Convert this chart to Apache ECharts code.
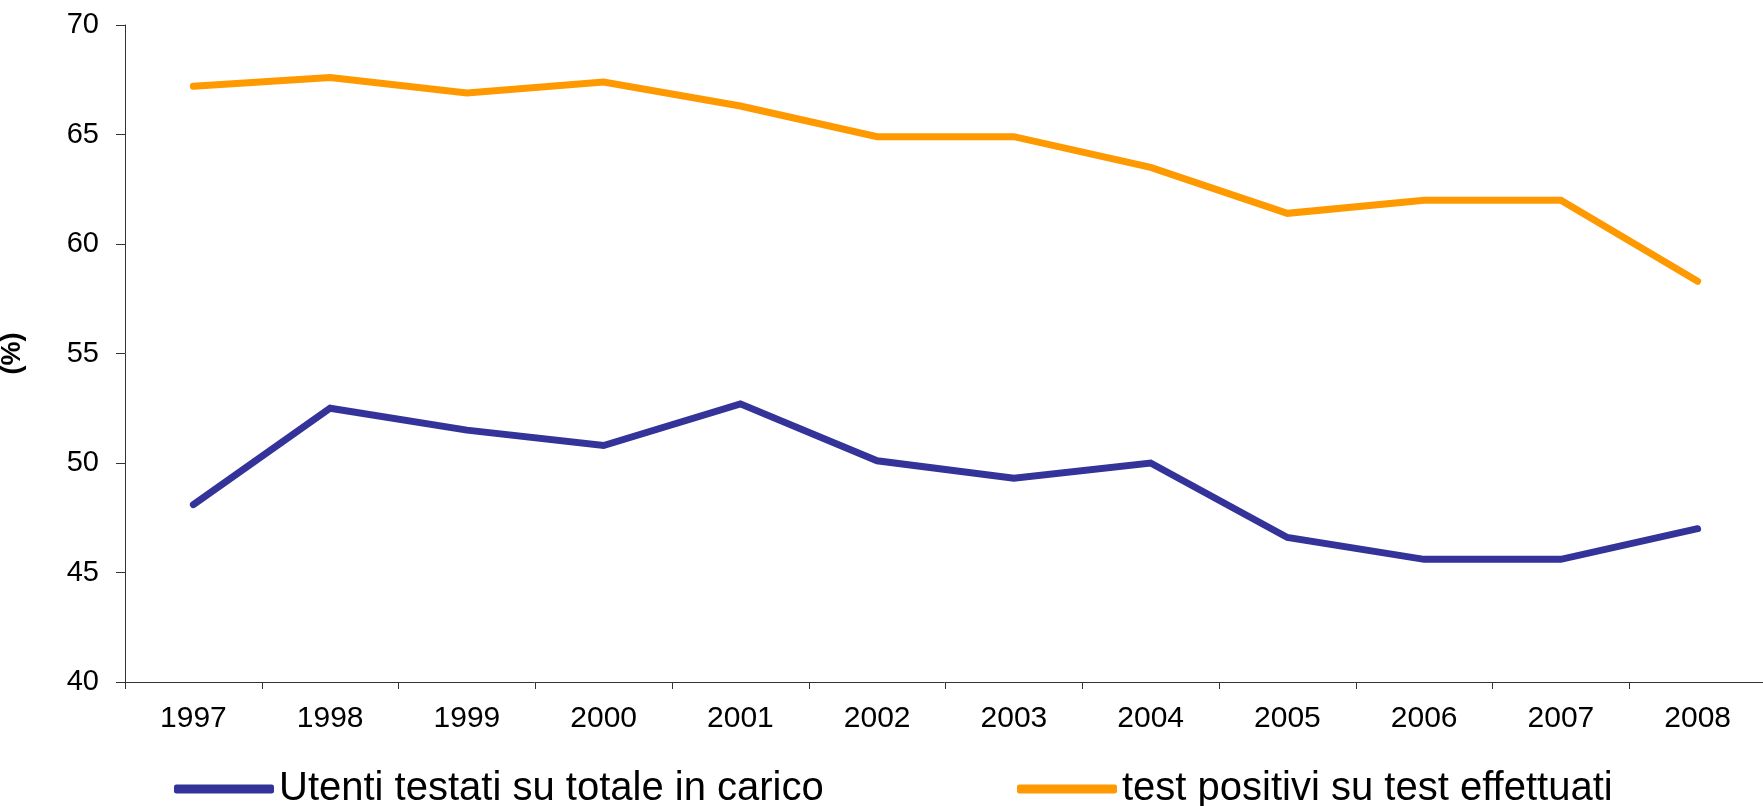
<!DOCTYPE html>
<html>
<head>
<meta charset="utf-8">
<script src="https://cdn.jsdelivr.net/npm/echarts@6/dist/echarts.min.js"></script>
<style>
  html, body { margin: 0; padding: 0; background: #fff; }
  #chart { width: 1763px; height: 806px; }
</style>
</head>
<body>
<div id="chart"></div>
<script>
const years = ['1997', '1998', '1999', '2000', '2001', '2002', '2003', '2004', '2005', '2006', '2007', '2008']
const utentiTestati = [48.1, 52.5, 51.5, 50.8, 52.7, 50.1, 49.3, 50.0, 46.6, 45.6, 45.6, 47.0]
const testPositivi = [67.2, 67.6, 66.9, 67.4, 66.3, 64.9, 64.9, 63.5, 61.4, 62.0, 62.0, 58.3]
const seriesNames = ['Utenti testati su totale in carico', 'test positivi su test effettuati']

const chart = echarts.init(document.getElementById('chart'))

// legend look, shared by both legend boxes
const legendBase = {
  top: 764,
  itemWidth: 100,
  itemHeight: 9,
  itemGap: 12,
  icon: 'roundRect',
  textStyle: { fontSize: 40, color: '#000', fontFamily: 'Liberation Sans, Arial, sans-serif' }
}

let option = {
  backgroundColor: '#fff',
  animation: false,
  textStyle: { fontFamily: 'Liberation Sans, Arial, sans-serif', color: '#000' },
  grid: { left: 125, top: 25, bottom: 124, right: -3, outerBoundsMode: 'none', containLabel: false },
  legend: [
    Object.assign({}, legendBase, { left: 169, data: [seriesNames[0]] }),
    Object.assign({}, legendBase, { left: 1012, data: [seriesNames[1]] })
  ],
  xAxis: {
    type: 'category',
    data: years,
    boundaryGap: true,
    axisLine: { lineStyle: { color: '#333', width: 1 } },
    axisTick: { show: true, length: 7, lineStyle: { color: '#333' } },
    axisLabel: { fontSize: 30, color: '#000', margin: 22 }
  },
  yAxis: {
    type: 'value',
    min: 40,
    max: 70,
    interval: 5,
    name: '(%)',
    nameLocation: 'middle',
    nameGap: 99,
    nameTextStyle: { fontSize: 27, fontWeight: 'bold', color: '#000' },
    axisLine: { show: true, lineStyle: { color: '#333', width: 1 } },
    axisTick: { show: true, length: 9, lineStyle: { color: '#333' } },
    splitLine: { show: false },
    axisLabel: { fontSize: 29, color: '#000', margin: 26 }
  },
  series: [
    {
      name: seriesNames[0],
      type: 'line',
      data: utentiTestati,
      symbol: 'none',
      color: '#333399',
      lineStyle: { width: 7, color: '#333399', cap: 'round', join: 'miter' }
    },
    {
      name: seriesNames[1],
      type: 'line',
      data: testPositivi,
      symbol: 'none',
      color: '#FF9900',
      lineStyle: { width: 7, color: '#FF9900', cap: 'round', join: 'miter' }
    }
  ]
}

chart.setOption(option)
</script>
</body>
</html>
